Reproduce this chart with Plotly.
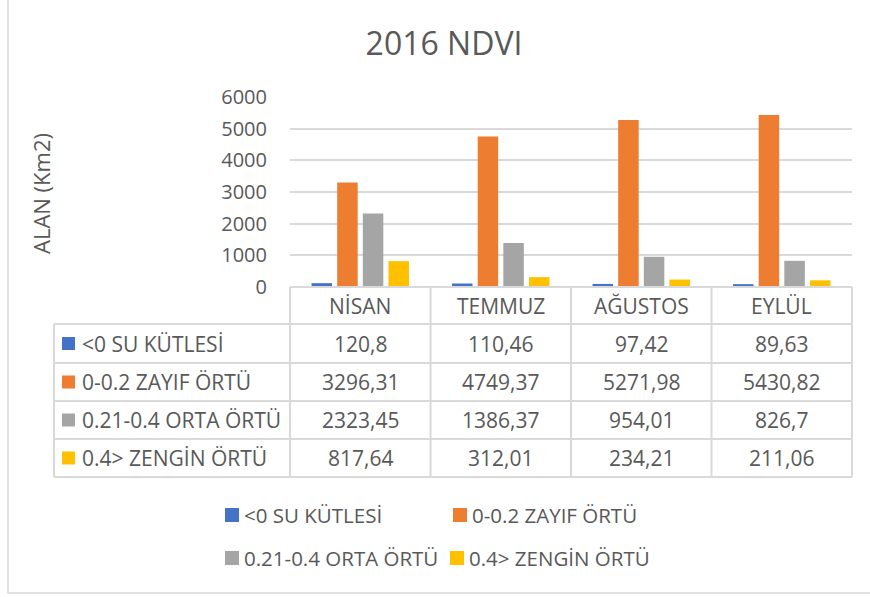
import plotly.graph_objects as go

# ---- data ----
categories = ["NİSAN", "TEMMUZ", "AĞUSTOS", "EYLÜL"]
series_names = ["<0 SU KÜTLESİ", "0-0.2 ZAYIF ÖRTÜ", "0.21-0.4 ORTA ÖRTÜ", "0.4> ZENGİN ÖRTÜ"]
su_kutlesi = [120.8, 110.46, 97.42, 89.63]
zayif_ortu = [3296.31, 4749.37, 5271.98, 5430.82]
orta_ortu = [2323.45, 1386.37, 954.01, 826.7]
zengin_ortu = [817.64, 312.01, 234.21, 211.06]
series_values = [su_kutlesi, zayif_ortu, orta_ortu, zengin_ortu]
colors = ["#4472C4", "#ED7D31", "#A5A5A5", "#FFC000"]
title_text = "2016 NDVI"
y_title = "ALAN (Km2)"

# ---- layout geometry (pixels) ----
W, H = 870, 597
L, R, T, B = 290, 18, 97, 310
PW, PH = W - L - R, H - T - B
TXT = "#595959"
LINE = "#D9D9D9"
FONT = "Open Sans"
FS = 21


def px(x):
    return (x - L) / PW


def py(y):
    return (H - B - y) / PH


def fmt(v):
    s = ("%.2f" % v).rstrip("0").rstrip(".")
    return s.replace(".", ",")


fig = go.Figure()
for name, vals, col in zip(series_names, series_values, colors):
    fig.add_trace(go.Bar(x=categories, y=vals, name=name, marker_color=col,
                         marker_line_width=0, showlegend=False))

shapes = []
annotations = []

# outer chart border (left and bottom visible)
shapes.append(dict(type="rect", xref="paper", yref="paper", x0=px(8), x1=px(880),
                   y0=py(-10), y1=py(593), line=dict(color=LINE, width=1.5)))

# data table geometry
row_edges = [287, 324, 363, 401, 439, 477]
tab_left = 54
n = len(categories)
shapes.append(dict(type="line", xref="paper", yref="paper", x0=px(L), x1=px(L + PW),
                   y0=py(row_edges[0]), y1=py(row_edges[0]), line=dict(color=LINE, width=2)))
for yy in row_edges[1:]:
    shapes.append(dict(type="line", xref="paper", yref="paper", x0=px(tab_left), x1=px(L + PW),
                       y0=py(yy), y1=py(yy), line=dict(color=LINE, width=2)))
shapes.append(dict(type="line", xref="paper", yref="paper", x0=px(tab_left), x1=px(tab_left),
                   y0=py(row_edges[1]), y1=py(row_edges[-1]), line=dict(color=LINE, width=2)))
for i in range(n + 1):
    xx = i / n
    shapes.append(dict(type="line", xref="paper", yref="paper", x0=xx, x1=xx,
                       y0=py(row_edges[0]), y1=py(row_edges[-1]), line=dict(color=LINE, width=2)))

# header
for c in categories:
    annotations.append(dict(x=c, xref="x", y=py((row_edges[0] + row_edges[1]) / 2), yref="paper",
                            text=c, showarrow=False, xanchor="center", yanchor="middle",
                            font=dict(family=FONT, size=FS, color=TXT)))
# rows
for r, (name, vals, col) in enumerate(zip(series_names, series_values, colors)):
    yc = (row_edges[r + 1] + row_edges[r + 2]) / 2
    shapes.append(dict(type="rect", xref="paper", yref="paper", x0=px(62), x1=px(75),
                       y0=py(yc - 6.5), y1=py(yc + 6.5), fillcolor=col, line=dict(width=0)))
    annotations.append(dict(x=px(80), xref="paper", y=py(yc), yref="paper", text=name,
                            showarrow=False, xanchor="left", yanchor="middle",
                            font=dict(family=FONT, size=FS, color=TXT)))
    for c, v in zip(categories, vals):
        annotations.append(dict(x=c, xref="x", y=py(yc), yref="paper", text=fmt(v),
                                showarrow=False, xanchor="center", yanchor="middle",
                                font=dict(family=FONT, size=FS, color=TXT)))

# legend (manual, two rows)
legend_pos = [(225, 515), (453, 515), (225, 558), (450, 558)]
for (lx, ly), name, col in zip(legend_pos, series_names, colors):
    shapes.append(dict(type="rect", xref="paper", yref="paper", x0=px(lx), x1=px(lx + 14),
                       y0=py(ly - 7), y1=py(ly + 7), fillcolor=col, line=dict(width=0)))
    annotations.append(dict(x=px(lx + 17), xref="paper", y=py(ly), yref="paper", text=name,
                            showarrow=False, xanchor="left", yanchor="middle",
                            font=dict(family=FONT, size=20.5, color=TXT)))

# y-axis title
annotations.append(dict(x=px(41), xref="paper", y=py(194), yref="paper", text=y_title,
                        textangle=-90, showarrow=False, xanchor="center", yanchor="middle",
                        font=dict(family=FONT, size=22, color=TXT)))

fig.update_layout(
    width=W, height=H,
    margin=dict(l=L, r=R, t=T, b=B, pad=0),
    paper_bgcolor="white", plot_bgcolor="white",
    title=dict(text=title_text, x=444 / W, xref="container", xanchor="center",
               y=1 - 44 / H, yanchor="middle", yref="container",
               font=dict(family=FONT, size=32, color=TXT)),
    barmode="group", bargap=0.27, bargroupgap=0.2,
    showlegend=False,
    shapes=shapes, annotations=annotations,
    font=dict(family=FONT, color=TXT),
)
fig.update_xaxes(showticklabels=False, showline=False, showgrid=False, zeroline=False,
                 ticks="")
fig.update_yaxes(range=[0, 6000], dtick=1000, showgrid=True, gridcolor=LINE, gridwidth=2,
                 zeroline=False, showline=False, ticks="", ticklabelstandoff=22,
                 tickfont=dict(family=FONT, size=20, color=TXT))

fig.write_html("out.html", config={"displayModeBar": False},
               post_script="document.body.style.margin='0';document.body.style.overflow='hidden';")
